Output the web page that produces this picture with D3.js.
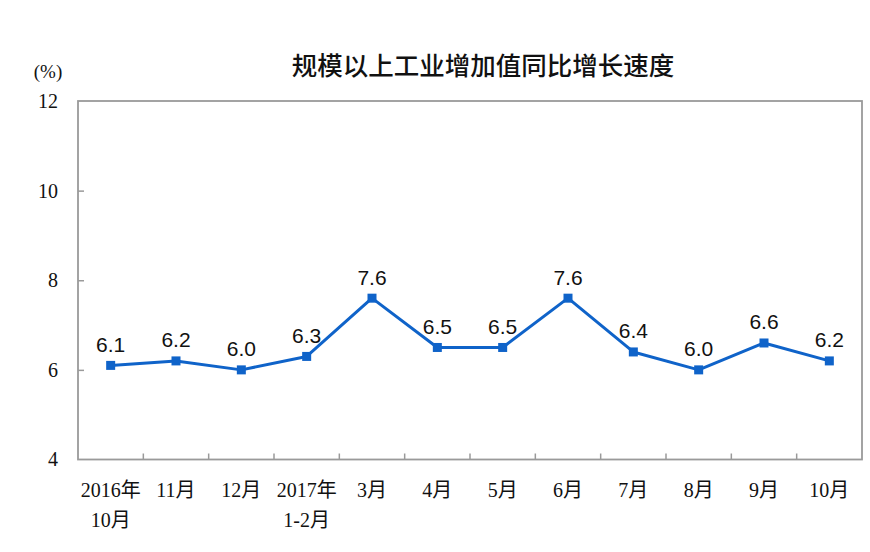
<!DOCTYPE html>
<html><head><meta charset="utf-8">
<script src="https://cdn.jsdelivr.net/npm/d3@7/dist/d3.min.js"></script>
<style>
body{margin:0;background:#fff;}
svg{display:block;}
</style></head>
<body>
<svg id="chart" width="870" height="552"></svg>
<script>
const categories = ["2016年\n10月","11月","12月","2017年\n1-2月","3月","4月","5月","6月","7月","8月","9月","10月"];
const values = [6.1,6.2,6.0,6.3,7.6,6.5,6.5,7.6,6.4,6.0,6.6,6.2];
const yTicks = [4,6,8,10,12];
const title = "规模以上工业增加值同比增长速度";
const unitLabel = "(%)";

(function(){
const svg = d3.select("#chart");
const pL = 78, pR = 862, pT = 101, pB = 459.5;
const x = d3.scaleBand().domain(categories).range([pL, pR]);
const y = d3.scaleLinear().domain([4,12]).range([pB, pT]);
const serif = "'Liberation Serif','Times New Roman','Noto Sans CJK SC',serif";
const sans = "'Liberation Sans',Arial,'Noto Sans CJK SC',sans-serif";
const axisColor = "#9a9a9a";

// plot frame
svg.append("rect").attr("x", pL).attr("y", pT).attr("width", pR-pL).attr("height", pB-pT)
  .attr("fill","none").attr("stroke", axisColor).attr("stroke-width", 1.8);

// title
svg.append("text").attr("x", 483).attr("y", 63).attr("text-anchor","middle").attr("dominant-baseline","central")
  .attr("font-family","'Noto Sans CJK SC',sans-serif").attr("font-size",25.5).attr("font-weight",500).attr("fill","#111")
  .text(title);

// unit label
svg.append("text").attr("x", 48).attr("y", 71).attr("text-anchor","middle").attr("dominant-baseline","central")
  .attr("font-family",serif).attr("font-size",19).attr("fill","#111").text(unitLabel);

// y axis
const yAxis = d3.axisLeft(y).tickValues(yTicks).tickSize(-6).tickPadding(20).tickFormat(d3.format("d"));
const yg = svg.append("g").attr("transform",`translate(${pL},0)`).call(yAxis);
yg.select(".domain").remove();
yg.selectAll(".tick line").attr("stroke",axisColor).attr("stroke-width",1.5)
  .filter(d => d===4 || d===12).remove();
yg.selectAll(".tick text").attr("font-family",serif).attr("font-size",20).attr("fill","#111");

// x axis ticks at band boundaries (inward)
const boundaries = categories.slice(1).map(c => x(c));
svg.append("g").selectAll("line").data(boundaries).join("line")
  .attr("x1", d=>d).attr("x2", d=>d).attr("y1", pB).attr("y2", pB-6)
  .attr("stroke", axisColor).attr("stroke-width",1.5);

// x labels
const xl = svg.append("g").selectAll("text").data(categories).join("text")
  .attr("x", d => x(d) + x.bandwidth()/2).attr("y", 490)
  .attr("text-anchor","middle").attr("dominant-baseline","central")
  .attr("font-family",serif).attr("font-size",20).attr("fill","#111");
xl.each(function(d){
  const lines = d.split("\n");
  const t = d3.select(this);
  lines.forEach((ln,i)=>{
    t.append("tspan").attr("x", x(d)+x.bandwidth()/2).attr("dy", i===0?0:30).text(ln);
  });
});

// line
const color = "#0f63c9";
const line = d3.line().x((d,i)=>x(categories[i])+x.bandwidth()/2).y(d=>y(d));
svg.append("path").datum(values).attr("d", line).attr("fill","none")
  .attr("stroke", color).attr("stroke-width",3).attr("stroke-linejoin","round");

// markers
svg.append("g").selectAll("rect").data(values).join("rect")
  .attr("x",(d,i)=>x(categories[i])+x.bandwidth()/2-4.5).attr("y",d=>y(d)-4.5)
  .attr("width",9).attr("height",9).attr("fill",color);

// data labels
svg.append("g").selectAll("text").data(values).join("text")
  .attr("x",(d,i)=>x(categories[i])+x.bandwidth()/2).attr("y",d=>y(d)-21)
  .attr("text-anchor","middle").attr("dominant-baseline","central")
  .attr("font-family",sans).attr("font-size",21).attr("fill","#111")
  .text(d=>d3.format(".1f")(d));
})();
</script>
</body></html>
